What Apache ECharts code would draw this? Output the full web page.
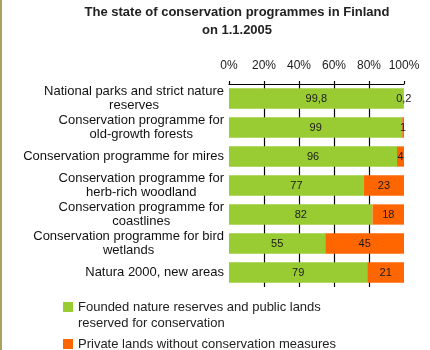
<!DOCTYPE html>
<html>
<head>
<meta charset="utf-8">
<script src="https://cdn.jsdelivr.net/npm/echarts@6/dist/echarts.min.js"></script>
<style>
  html, body { margin: 0; padding: 0; background: #fff; }
  #chart { width: 430px; height: 350px; box-sizing: border-box; border-left: 2px solid #aaa55e; }
</style>
</head>
<body>
<div id="chart"></div>
<script>
// Programme categories (top to bottom)
const categories = [
  'National parks and strict nature\nreserves',
  'Conservation programme for\nold-growth forests',
  'Conservation programme for mires',
  'Conservation programme for\nherb-rich woodland',
  'Conservation programme for\ncoastlines',
  'Conservation programme for bird\nwetlands',
  'Natura 2000, new areas'
];
// Share of area, percent
const publicLands = [99.8, 99, 96, 77, 82, 55, 79];
const privateLands = [0.2, 1, 4, 23, 18, 45, 21];
const seriesNames = [
  'Founded nature reserves and public lands\nreserved for conservation',
  'Private lands without conservation measures'
];
const tickLabels = ['0%', '20%', '40%', '60%', '80%', '100%'];

const FONT = '"Liberation Sans", Arial, sans-serif';
const GREEN = '#99cc33';
const ORANGE = '#ff6600';
const chart = echarts.init(document.getElementById('chart'), null, { renderer: 'canvas' });

// decimal comma for the value labels
const fmtValue = p => String(p.value).replace('.', ',');

// square sitting in the top of a taller icon box, so it lines up with
// the first line of a two-line legend entry
const topSquare = 'path://M0,0h10v10h-10zM0,26';

chart.setOption({
  animation: false,
  textStyle: { fontFamily: FONT },
  title: {
    text: 'The state of conservation programmes in Finland\non 1.1.2005',
    left: 235,
    textAlign: 'center',
    top: 3,
    padding: 0,
    textStyle: { fontSize: 13, fontWeight: 'bold', color: '#222', lineHeight: 18, fontFamily: FONT }
  },
  grid: { left: 227, right: 26, top: 84, bottom: 63, containLabel: false },
  xAxis: {
    type: 'value',
    position: 'top',
    min: 0,
    max: 100,
    interval: 20,
    axisLine: { show: true, lineStyle: { color: '#000', width: 1.2 } },
    axisTick: { show: true, length: 3, lineStyle: { color: '#000', width: 1.2 } },
    axisLabel: {
      margin: 12,
      fontSize: 12,
      color: '#222',
      formatter: v => tickLabels[Math.round(v / 20)]
    },
    splitLine: { show: true, showMinLine: false, showMaxLine: false, lineStyle: { color: '#000', width: 1.2 } }
  },
  yAxis: {
    type: 'category',
    inverse: true,
    data: categories,
    axisLine: { show: false },
    axisTick: { show: false },
    axisLabel: {
      margin: 5,
      align: 'right',
      color: '#111',
      fontSize: 13,
      formatter: v => v.split('\n').map(s => '{c|' + s + '}').join('\n'),
      rich: { c: { align: 'center', fontSize: 13, lineHeight: 14, color: '#111', fontFamily: FONT } }
    }
  },
  legend: [
    {
      orient: 'vertical',
      left: 56,
      top: 294,
      itemWidth: 10,
      itemHeight: 26,
      selectedMode: false,
      data: [{ name: seriesNames[0], icon: topSquare }],
      textStyle: { fontSize: 13, color: '#222', lineHeight: 16, fontFamily: FONT }
    },
    {
      orient: 'vertical',
      left: 56,
      top: 331,
      itemWidth: 10,
      itemHeight: 10,
      icon: 'rect',
      selectedMode: false,
      data: [seriesNames[1]],
      textStyle: { fontSize: 13, color: '#222', lineHeight: 16, fontFamily: FONT }
    }
  ],
  series: [
    {
      name: seriesNames[0],
      type: 'bar',
      stack: 'total',
      data: publicLands,
      barCategoryGap: '30%',
      itemStyle: { color: GREEN },
      label: { show: true, position: 'inside', fontSize: 11, color: '#1a1a1a', formatter: fmtValue }
    },
    {
      name: seriesNames[1],
      type: 'bar',
      stack: 'total',
      data: privateLands,
      barCategoryGap: '30%',
      itemStyle: { color: ORANGE },
      label: { show: true, position: 'inside', fontSize: 11, color: '#1a1a1a', formatter: fmtValue }
    }
  ]
});
</script>
</body>
</html>
